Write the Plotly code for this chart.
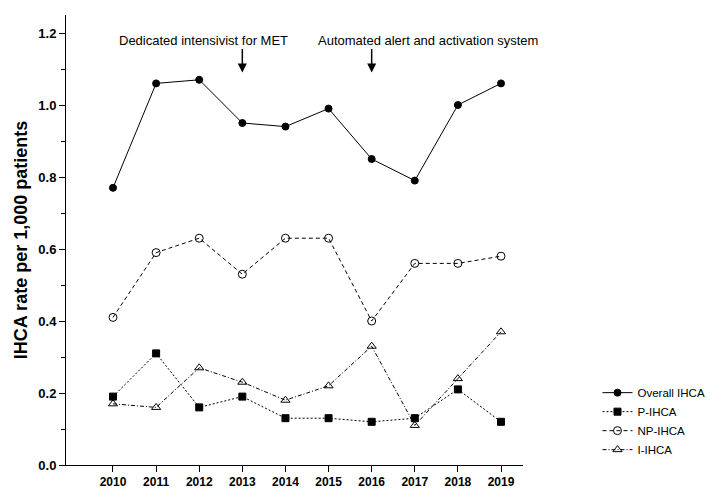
import plotly.graph_objects as go

years = [2010, 2011, 2012, 2013, 2014, 2015, 2016, 2017, 2018, 2019]
overall = [0.77, 1.06, 1.07, 0.95, 0.94, 0.99, 0.85, 0.79, 1.00, 1.06]
p_ihca = [0.19, 0.31, 0.16, 0.19, 0.13, 0.13, 0.12, 0.13, 0.21, 0.12]
np_ihca = [0.41, 0.59, 0.63, 0.53, 0.63, 0.63, 0.40, 0.56, 0.56, 0.58]
i_ihca = [0.17, 0.16, 0.27, 0.23, 0.18, 0.22, 0.33, 0.11, 0.24, 0.37]
y_ticks = [0.0, 0.2, 0.4, 0.6, 0.8, 1.0, 1.2]
event_years = [2013, 2016]
event_labels = ["Dedicated intensivist for MET", "Automated alert and activation system"]

FONT = "Liberation Sans, Arial, sans-serif"
fig = go.Figure()
series = [
    ("Overall IHCA", overall, "solid", "circle", 7),
    ("P-IHCA", p_ihca, "2px,2px", "square", 7),
    ("NP-IHCA", np_ihca, "4px,3px", "circle-open", 8),
    ("I-IHCA", i_ihca, "4px,2px,1px,2px", "triangle-up-open", 8),
]
for name, vals, dash, sym, sz in series:
    fig.add_trace(go.Scatter(
        x=years, y=vals, name=name, mode="lines+markers",
        line=dict(color="black", width=1, dash=dash),
        marker=dict(symbol=sym, size=sz, color="black", line=dict(color="black", width=1)),
    ))

shifts = [-39, 56]
for yr, label, sh in zip(event_years, event_labels, shifts):
    fig.add_annotation(x=yr, y=1.09, xref="x", yref="y", ax=yr, ay=1.16, axref="x", ayref="y",
                       showarrow=True, arrowhead=2, arrowsize=1.2, arrowwidth=1.5, arrowcolor="black",
                       text="")
    fig.add_annotation(x=yr, y=1.18, xref="x", yref="y", xanchor="center", yanchor="middle",
                       text=label, showarrow=False, xshift=sh,
                       font=dict(family=FONT, size=13, color="black"))

fig.update_layout(
    width=708, height=481,
    margin=dict(l=58, r=193, t=7, b=24, autoexpand=False),
    paper_bgcolor="white", plot_bgcolor="white",
    font=dict(family=FONT, color="black"),
    showlegend=True,
    legend=dict(x=1.163, y=0.193, xanchor="left", yanchor="top",
                font=dict(family=FONT, size=11.5, color="black"),
                bgcolor="rgba(0,0,0,0)", tracegroupgap=0, itemwidth=30),
    xaxis=dict(range=[2008.91, 2019.51], tickmode="array", tickvals=years,
               ticktext=[f"<b>{y}</b>" for y in years], automargin=False,
               showline=True, linecolor="black", linewidth=1, ticks="outside", ticklen=6,
               tickcolor="black", showgrid=False, zeroline=False,
               tickfont=dict(family=FONT, size=12, color="black")),
    yaxis=dict(range=[0, 1.25], tickmode="array", tickvals=y_ticks,
               ticktext=[f"<b>{v:.1f}</b>" for v in y_ticks], automargin=False,
               showline=True, linecolor="black", linewidth=1, ticks="outside", ticklen=6,
               tickcolor="black", showgrid=False, zeroline=False,
               minor=dict(tickvals=[0.1, 0.3, 0.5, 0.7, 0.9, 1.1], ticks="outside", ticklen=4, tickcolor="black", showgrid=False),
               tickfont=dict(family=FONT, size=13, color="black"),
               title=dict(text="<b>IHCA rate per 1,000 patients</b>", font=dict(family=FONT, size=18, color="black"), standoff=6)),
)

fig.write_html("out.html")
